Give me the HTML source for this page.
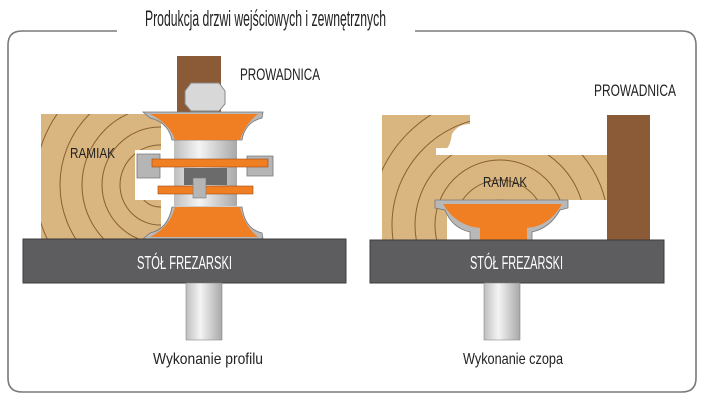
<!DOCTYPE html>
<html><head><meta charset="utf-8"><style>
body{margin:0;background:#fff;width:706px;height:404px;overflow:hidden}
svg{display:block}
text{font-family:"Liberation Sans Narrow","Liberation Sans",sans-serif}
</style></head><body>
<svg width="706" height="404" viewBox="0 0 706 404">
<defs>
<linearGradient id="sh" x1="0" x2="1"><stop offset="0" stop-color="#bfbfbf"/><stop offset=".4" stop-color="#f4f4f4"/><stop offset="1" stop-color="#a8a8a8"/></linearGradient>
<clipPath id="wl"><rect x="41" y="114" width="120" height="125"/></clipPath>
<clipPath id="wr"><path d="M382 115H470V124Q458 124 452 134Q450 146 447 148H436V155H607V200H382Z M382 200H447V240H382Z"/></clipPath>
</defs>
<path d="M117 31H22Q8 31 8 45V378Q8 392 22 392H682Q696 392 696 378V45Q696 31 682 31H415" fill="none" stroke="#7a7a7a" stroke-width="1.6"/>
<text x="145" y="26" font-size="22" fill="#222" textLength="241" lengthAdjust="spacingAndGlyphs">Produkcja drzwi wejściowych i zewnętrznych</text>

<!-- LEFT -->
<rect x="177" y="56" width="44" height="145" fill="#8b5a36"/>
<g clip-path="url(#wl)">
<rect x="41" y="114" width="120" height="125" fill="#d9b57f"/>
<g fill="none" stroke="#8a6030" stroke-width="1">
<circle cx="160" cy="185" r="22"/><circle cx="160" cy="185" r="40"/><circle cx="160" cy="185" r="58"/><circle cx="160" cy="185" r="78"/><circle cx="160" cy="185" r="100"/><circle cx="160" cy="185" r="125"/>
</g></g>
<rect x="135" y="150" width="40" height="50" fill="#fff"/>
<rect x="174" y="140" width="63" height="66" fill="url(#sh)"/>
<rect x="184" y="168" width="43" height="17" fill="#6b6b6b"/>
<path d="M143 112H263L262 118Q245 122 242 140H172Q168 122 150 118Z" fill="#b8b8b8" stroke="#777" stroke-width=".8"/>
<path d="M150 114H258Q245 124 240 140H175Q170 124 150 114Z" fill="#f07f24"/>
<path d="M143 239H263L262 233Q245 229 242 207H172Q168 229 150 233Z" fill="#b8b8b8" stroke="#777" stroke-width=".8"/>
<path d="M150 237H258Q245 227 240 207H175Q170 227 150 237Z" fill="#f07f24"/>
<path d="M137 154H160V178H137Z" fill="#b5b5b5" stroke="#777" stroke-width=".8"/>
<path d="M247 156H273V176H247Z" fill="#b5b5b5" stroke="#777" stroke-width=".8"/>
<rect x="152" y="159" width="116" height="8" fill="#f07f24" stroke="#a04a10" stroke-width=".6"/>
<rect x="158" y="186" width="95" height="8" fill="#f07f24" stroke="#a04a10" stroke-width=".6"/>
<rect x="193" y="178" width="13" height="20" fill="#b5b5b5" stroke="#777" stroke-width=".6"/>
<path d="M185 91L191 83H219L225 91V104L219 111H191L185 104Z" fill="#d8d8d8" stroke="#888"/>
<text x="70" y="158" font-size="15" fill="#222" textLength="45" lengthAdjust="spacingAndGlyphs">RAMIAK</text>
<text x="240" y="80" font-size="17" fill="#222" textLength="80" lengthAdjust="spacingAndGlyphs">PROWADNICA</text>
<rect x="23" y="239" width="323" height="44" fill="#5d5d5f" stroke="#3c3c3c"/>
<text x="137" y="269" font-size="18" fill="#fff" textLength="95" lengthAdjust="spacingAndGlyphs">STÓŁ FREZARSKI</text>
<rect x="186" y="283" width="36" height="57" fill="url(#sh)" stroke="#888" stroke-width=".6"/>
<text x="153" y="364" font-size="16" fill="#222" textLength="110" lengthAdjust="spacingAndGlyphs">Wykonanie profilu</text>

<!-- RIGHT -->
<g clip-path="url(#wr)">
<rect x="382" y="115" width="225" height="125" fill="#d9b57f"/>
<g fill="none" stroke="#8a6030" stroke-width="1">
<circle cx="500" cy="225" r="25"/><circle cx="500" cy="225" r="45"/><circle cx="500" cy="225" r="65"/><circle cx="500" cy="225" r="85"/><circle cx="500" cy="225" r="108"/><circle cx="500" cy="225" r="130"/>
</g></g>
<rect x="607" y="115" width="43" height="125" fill="#8b5a36"/>
<path d="M435 200H568V208L560 210Q550 228 532 232V240H470V232Q452 228 445 210L435 208Z" fill="#b8b8b8" stroke="#777" stroke-width=".8"/>
<path d="M443 204H562Q550 226 527 228V240H480V228Q456 226 443 204Z" fill="#f07f24"/>
<text x="483" y="187" font-size="15" fill="#222" textLength="44" lengthAdjust="spacingAndGlyphs">RAMIAK</text>
<text x="594" y="96" font-size="17" fill="#222" textLength="82" lengthAdjust="spacingAndGlyphs">PROWADNICA</text>
<rect x="370" y="240" width="294" height="43" fill="#5d5d5f" stroke="#3c3c3c"/>
<text x="470" y="269" font-size="18" fill="#fff" textLength="93" lengthAdjust="spacingAndGlyphs">STÓŁ FREZARSKI</text>
<rect x="484" y="283" width="36" height="57" fill="url(#sh)" stroke="#888" stroke-width=".6"/>
<text x="463" y="364" font-size="16" fill="#222" textLength="100" lengthAdjust="spacingAndGlyphs">Wykonanie czopa</text>
</svg>
</body></html>
